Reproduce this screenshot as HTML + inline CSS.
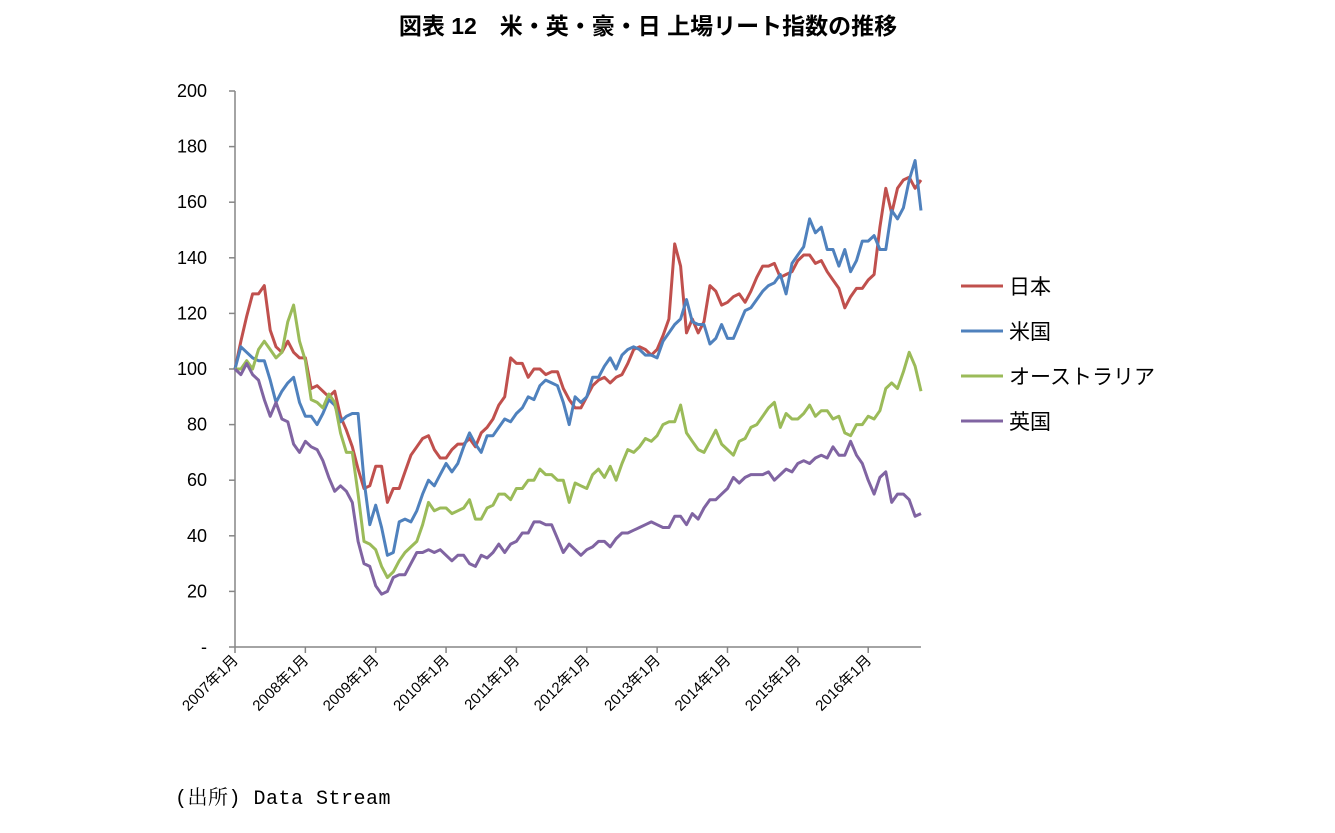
<!DOCTYPE html>
<html><head><meta charset="utf-8"><style>
body{margin:0;background:#fff;width:1335px;height:828px;overflow:hidden;font-family:"Liberation Sans","Noto Sans CJK JP",sans-serif}
</style></head><body>
<svg id="c" width="1335" height="828" xmlns="http://www.w3.org/2000/svg">
<text x="648" y="34" text-anchor="middle" font-size="23" font-weight="bold" font-family="Liberation Sans, Noto Sans CJK JP, sans-serif">図表 12　米・英・豪・日 上場リート指数の推移</text>
<text x="175" y="804" font-size="20" letter-spacing="0.5" font-family="Liberation Mono, Noto Serif CJK SC, monospace">(出所) Data Stream</text>
<g id="axes"></g><g id="lines"></g><g id="legend"></g>
</svg>
<script>
const yTicks=[0,20,40,60,80,100,120,140,160,180,200];
const yearLabels=["2007年1月","2008年1月","2009年1月","2010年1月","2011年1月","2012年1月","2013年1月","2014年1月","2015年1月","2016年1月"];
const seriesNames=["日本","米国","オーストラリア","英国"];
const japan=[100,110,119,127,127,130,114,108,106,110,106,104,104,93,94,92,90,92,83,78,72,64,57,58,65,65,52,57,57,63,69,72,75,76,71,68,68,71,73,73,75,72,77,79,82,87,90,104,102,102,97,100,100,98,99,99,93,89,86,86,90,94,96,97,95,97,98,102,107,108,107,105,107,112,118,145,137,113,118,113,117,130,128,123,124,126,127,124,128,133,137,137,138,133,134,135,139,141,141,138,139,135,132,129,122,126,129,129,132,134,151,165,156,165,168,169,165,168];
const usa=[100,108,106,104,103,103,96,88,92,95,97,88,83,83,80,84,89,87,81,83,84,84,60,44,51,43,33,34,45,46,45,49,55,60,58,62,66,63,66,72,77,73,70,76,76,79,82,81,84,86,90,89,94,96,95,94,88,80,90,88,90,97,97,101,104,100,105,107,108,107,105,105,104,110,113,116,118,125,117,116,116,109,111,116,111,111,116,121,122,125,128,130,131,134,127,138,141,144,154,149,151,143,143,137,143,135,139,146,146,148,143,143,157,154,158,168,175,157];
const australia=[100,100,103,100,107,110,107,104,106,117,123,110,103,89,88,86,91,88,77,70,70,55,38,37,35,29,25,27,31,34,36,38,44,52,49,50,50,48,49,50,53,46,46,50,51,55,55,53,57,57,60,60,64,62,62,60,60,52,59,58,57,62,64,61,65,60,66,71,70,72,75,74,76,80,81,81,87,77,74,71,70,74,78,73,71,69,74,75,79,80,83,86,88,79,84,82,82,84,87,83,85,85,82,83,77,76,80,80,83,82,85,93,95,93,99,106,101,92];
const uk=[100,98,102,98,96,89,83,88,82,81,73,70,74,72,71,67,61,56,58,56,52,38,30,29,22,19,20,25,26,26,30,34,34,35,34,35,33,31,33,33,30,29,33,32,34,37,34,37,38,41,41,45,45,44,44,39,34,37,35,33,35,36,38,38,36,39,41,41,42,43,44,45,44,43,43,47,47,44,48,46,50,53,53,55,57,61,59,61,62,62,62,63,60,62,64,63,66,67,66,68,69,68,72,69,69,74,69,66,60,55,61,63,52,55,55,53,47,48];
const colors=["#c0504d","#4f81bd","#9bbb59","#8064a2"];
const NS="http://www.w3.org/2000/svg";
const x0=235,pxPerMonth=5.863,yBase=647,pxPerUnit=2.78;
const X=i=>x0+i*pxPerMonth, Y=v=>yBase-v*pxPerUnit;
function mk(t,a,p){const e=document.createElementNS(NS,t);for(const k in a)e.setAttribute(k,a[k]);p.appendChild(e);return e;}
const axes=document.getElementById('axes');
const ya=mk('line',{x1:x0,y1:Y(200),x2:x0,y2:yBase,stroke:'#868686','stroke-width':1.5},axes);


const xa=mk('line',{x1:x0,y1:yBase,x2:X(japan.length-1),y2:yBase,stroke:'#868686','stroke-width':1.5},axes);


yTicks.forEach(v=>{
 mk('line',{x1:x0-6,y1:Y(v),x2:x0,y2:Y(v),stroke:'#868686','stroke-width':1.5},axes);
 const t=mk('text',{x:207,y:Y(v)+6,'text-anchor':'end','font-size':18},axes);
 t.textContent=v===0?'-':v;
 
 
});
yearLabels.forEach((s,k)=>{
 const x=X(k*12);
 mk('line',{x1:x,y1:yBase,x2:x,y2:yBase+6,stroke:'#868686','stroke-width':1.5},axes);
 const t=mk('text',{x:x+4,y:yBase+14,'text-anchor':'end','font-size':15,transform:`rotate(-45 ${x+4} ${yBase+14})`},axes);
 t.textContent=s;
 
 
});
const lines=document.getElementById('lines');
[japan,usa,australia,uk].forEach((d,s)=>{
 const p=mk('polyline',{points:d.map((v,i)=>X(i).toFixed(1)+','+Y(v).toFixed(1)).join(' '),fill:'none',stroke:colors[s],'stroke-width':3,'stroke-linejoin':'round'},lines);
 
 
});
const lg=document.getElementById('legend');
seriesNames.forEach((n,s)=>{
 const y=286+s*45;
 const l=mk('line',{x1:961,y1:y,x2:1003,y2:y,stroke:colors[s],'stroke-width':3},lg);
 
 
 const t=mk('text',{x:1009,y:y+8,'font-size':21},lg);
 t.textContent=n;
 
 
});
</script>
</body></html>
